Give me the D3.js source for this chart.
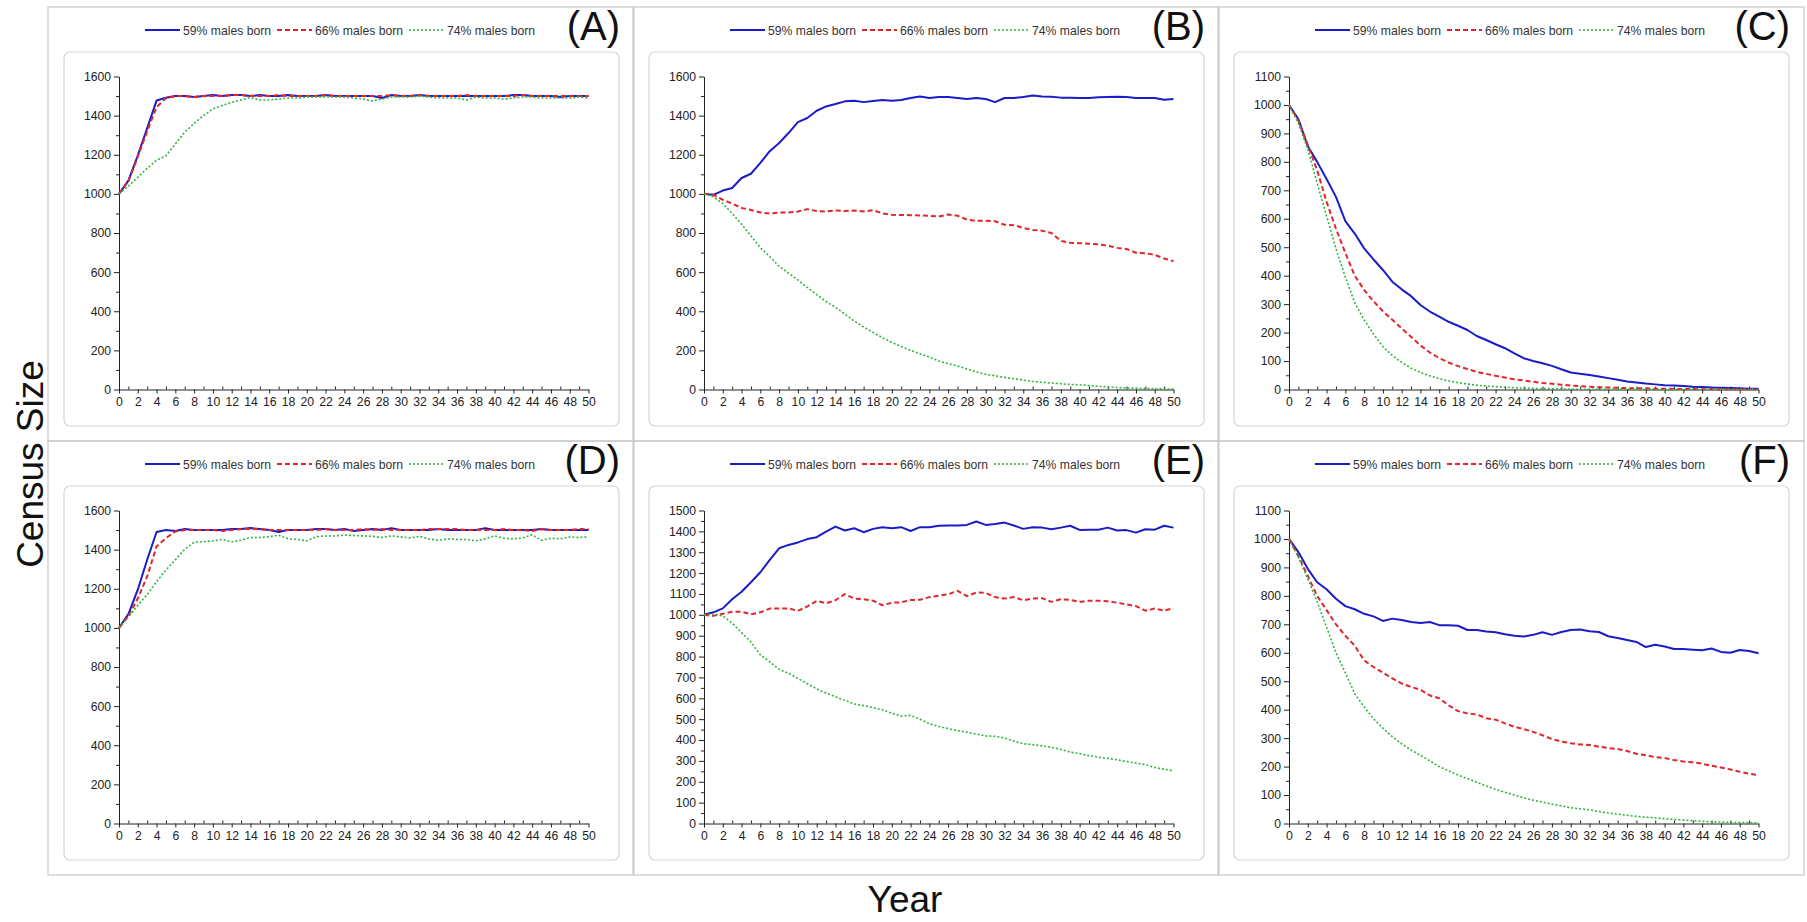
<!DOCTYPE html>
<html>
<head>
<meta charset="utf-8">
<script src="https://cdn.jsdelivr.net/npm/d3@7"></script>
<style>
  body { margin: 0; background: #fff; }
  svg { display: block; font-family: "Liberation Sans", Arial, sans-serif; }
</style>
</head>
<body>
<svg id="chart" width="1807" height="922"></svg>
<script>
// x categories: simulation years
const years = d3.range(0, 51);
const seriesNames = ['59% males born', '66% males born', '74% males born'];
const panelLabels = ['(A)', '(B)', '(C)', '(D)', '(E)', '(F)'];
const yMaxes = [1600, 1600, 1100, 1600, 1500, 1100];
const yMajorSteps = [200, 200, 100, 200, 100, 100];
const yMinorSteps = [100, 100, 50, 100, 50, 50];

// census size per year
const a59 = [1000,1068,1196,1336,1477,1491,1500,1500,1495,1500,
  1505,1500,1505,1505,1500,1505,1500,1500,1505,1500,
  1500,1500,1505,1500,1500,1500,1500,1500,1490,1505,
  1500,1500,1505,1500,1500,1500,1500,1500,1500,1500,
  1500,1500,1505,1505,1500,1500,1500,1495,1500,1500,1500];
const a66 = [1000,1065,1190,1320,1443,1490,1500,1500,1495,1500,
  1500,1500,1505,1505,1500,1500,1500,1505,1500,1500,
  1500,1500,1505,1500,1500,1500,1500,1500,1500,1505,
  1500,1500,1505,1500,1500,1500,1500,1505,1500,1500,
  1500,1500,1500,1505,1500,1500,1500,1500,1500,1500,1500];
const a74 = [1000,1040,1085,1130,1172,1195,1255,1315,1360,1400,
  1435,1452,1468,1480,1492,1480,1480,1485,1490,1490,
  1495,1495,1495,1495,1495,1490,1485,1475,1485,1495,
  1495,1495,1500,1495,1490,1490,1490,1480,1495,1490,
  1490,1485,1490,1495,1495,1490,1490,1490,1490,1495,1490];

const b59 = [1000,995,1017,1030,1081,1103,1158,1218,1260,1311,
  1367,1388,1425,1447,1459,1473,1476,1469,1475,1480,
  1476,1480,1490,1498,1490,1495,1495,1490,1485,1490,
  1485,1469,1490,1490,1495,1503,1498,1497,1492,1492,
  1490,1490,1494,1495,1496,1495,1490,1490,1490,1481,1485];
const b66 = [1000,995,970,950,928,918,905,900,905,905,
  910,922,912,910,915,912,915,910,917,900,
  893,892,891,890,888,884,895,888,869,862,
  862,860,842,840,826,815,812,800,760,750,
  748,745,742,735,724,718,699,697,688,670,656];
const b74 = [1000,985,950,900,845,785,725,680,630,595,
  560,522,485,450,420,385,350,320,292,265,
  240,220,200,183,165,146,132,120,105,90,
  78,70,62,55,48,41,37,33,29,26,
  24,20,16,13,10,8,6,5,4,3,2];

const c59 = [1000,950,855,800,740,677,592,548,496,457,
  420,379,352,328,297,274,256,238,224,209,
  188,174,159,145,127,110,100,92,83,71,
  60,55,51,46,40,34,28,25,21,18,
  15,14,12,10,9,7,6,5,4,3,3];
const c66 = [1000,945,860,770,660,565,480,400,350,310,
  275,245,215,185,155,130,110,95,82,72,
  62,55,48,42,36,32,27,23,20,17,
  14,12,10,8,7,6,5,4,4,3,
  3,2,2,2,1,1,1,1,1,1,1];
const c74 = [1000,935,845,725,610,495,395,305,245,195,
  150,120,95,75,60,48,38,30,24,19,
  15,12,10,8,6,5,4,3,3,2,
  2,1,1,1,1,1,1,1,0,0,
  0,0,0,0,0,0,0,0,0,0,0];

const d59 = [1000,1070,1195,1348,1490,1500,1495,1505,1500,1500,
  1500,1500,1505,1505,1510,1505,1500,1490,1500,1500,
  1500,1505,1505,1500,1505,1495,1500,1505,1500,1510,
  1500,1500,1500,1500,1505,1500,1500,1500,1500,1510,
  1500,1500,1500,1500,1500,1505,1500,1500,1500,1500,1500];
const d66 = [1000,1060,1150,1263,1416,1459,1493,1500,1500,1500,
  1500,1495,1500,1505,1505,1505,1500,1500,1500,1500,
  1500,1500,1505,1500,1500,1500,1505,1500,1505,1500,
  1500,1500,1500,1505,1505,1505,1505,1500,1500,1500,
  1500,1505,1500,1500,1495,1505,1500,1500,1500,1505,1505];
const d74 = [1000,1055,1115,1170,1236,1296,1348,1402,1438,1440,
  1445,1452,1440,1448,1462,1462,1466,1474,1455,1452,
  1445,1466,1470,1470,1474,1472,1470,1468,1462,1470,
  1465,1460,1468,1455,1448,1455,1452,1452,1445,1455,
  1470,1458,1455,1460,1476,1448,1458,1455,1465,1462,1465];

const e59 = [1000,1012,1031,1075,1111,1156,1204,1263,1319,1335,
  1347,1363,1372,1399,1423,1404,1415,1396,1412,1420,
  1415,1420,1402,1420,1420,1427,1428,1428,1431,1447,
  1431,1435,1442,1428,1412,1420,1418,1410,1418,1427,
  1407,1408,1408,1418,1404,1406,1394,1410,1408,1427,1418];
const e66 = [1000,995,1005,1015,1015,1003,1012,1030,1030,1031,
  1019,1040,1067,1055,1070,1099,1078,1075,1068,1046,
  1058,1060,1071,1072,1085,1092,1098,1115,1090,1107,
  1105,1085,1078,1085,1070,1078,1080,1062,1075,1072,
  1062,1068,1068,1065,1058,1050,1042,1020,1030,1020,1032];
const e74 = [1000,1005,995,960,915,870,808,775,739,720,
  695,670,645,625,608,590,573,565,555,545,
  528,515,518,500,478,465,455,445,438,428,
  420,418,410,395,382,378,372,365,355,342,
  335,325,318,312,305,297,290,282,268,260,253];

const f59 = [1000,954,895,848,823,790,764,753,737,728,
  712,720,715,708,705,708,697,697,695,680,
  680,675,672,665,660,657,663,672,663,673,
  680,682,676,673,658,652,645,638,620,628,
  622,613,613,611,609,615,603,600,610,606,598];
const f66 = [1000,940,870,800,750,700,660,625,573,550,
  530,510,492,480,470,450,440,415,395,387,
  383,370,365,352,340,332,322,310,297,288,
  282,278,276,270,265,262,255,245,240,233,
  230,223,218,215,210,203,197,190,182,175,170];
const f74 = [1000,935,860,780,690,600,530,456,410,368,
  335,305,280,258,240,220,200,185,170,158,
  145,132,120,110,100,90,82,75,68,62,
  55,52,48,42,37,33,29,25,22,20,
  17,14,12,10,8,6,5,4,3,3,2];

const panelSeries = [
  [a59, a66, a74], [b59, b66, b74], [c59, c66, c74],
  [d59, d66, d74], [e59, e66, e74], [f59, f66, f74]
];

const lineStyles = [
  { color: '#1c1cc6', width: 2, dash: null },
  { color: '#e2262b', width: 2, dash: '5,3' },
  { color: '#2fb53c', width: 1.6, dash: '2,2' }
];

const colX = [48, 633, 1218];
const rowY = [7, 441];
const panelW = 586, panelH = 434;
const plot = { left: 71, top: 69.5, width: 469.5, height: 313 };

const svg = d3.select('#chart');

panelSeries.forEach((series, i) => {
  const ox = colX[i % 3], oy = rowY[Math.floor(i / 3)];
  const g = svg.append('g').attr('transform', `translate(${ox},${oy})`);

  g.append('rect')
    .attr('x', 0).attr('y', 0)
    .attr('width', panelW).attr('height', panelH)
    .attr('fill', 'none').attr('stroke', '#c9c9c9').attr('stroke-width', 1.2);

  g.append('rect')
    .attr('x', 16).attr('y', 45)
    .attr('width', 555).attr('height', 374)
    .attr('rx', 6)
    .attr('fill', '#fff').attr('stroke', '#d6d6d6').attr('stroke-width', 1.2);

  // panel letter
  g.append('text')
    .attr('x', 572).attr('y', 33)
    .attr('text-anchor', 'end')
    .attr('font-size', 40)
    .attr('fill', '#111')
    .text(panelLabels[i]);

  // legend
  const leg = g.append('g').attr('transform', 'translate(97,23)');
  seriesNames.forEach((name, k) => {
    const item = leg.append('g').attr('transform', `translate(${k * 132},0)`);
    item.append('line')
      .attr('x1', 0).attr('x2', 35).attr('y1', 0).attr('y2', 0)
      .attr('stroke', lineStyles[k].color)
      .attr('stroke-width', lineStyles[k].width)
      .attr('stroke-dasharray', lineStyles[k].dash);
    item.append('text')
      .attr('x', 38).attr('y', 4.5)
      .attr('font-size', 12.2)
      .attr('fill', '#333')
      .text(name);
  });

  const x = d3.scaleLinear().domain([0, 50]).range([0, plot.width]);
  const y = d3.scaleLinear().domain([0, yMaxes[i]]).range([plot.height, 0]);

  const pg = g.append('g').attr('transform', `translate(${plot.left},${plot.top})`);

  // minor ticks
  const yMinor = d3.range(0, yMaxes[i] + 1, yMinorSteps[i]).filter(v => v % yMajorSteps[i] !== 0);
  pg.append('g')
    .call(d3.axisLeft(y).tickValues(yMinor).tickSize(3).tickFormat(''))
    .call(a => a.select('.domain').remove());
  pg.append('g')
    .attr('transform', `translate(0,${plot.height})`)
    .call(d3.axisTop(x).tickValues(years.filter(v => v % 2 === 1)).tickSize(3).tickFormat(''))
    .call(a => a.select('.domain').remove());

  pg.append('g')
    .attr('class', 'axis--y')
    .call(d3.axisLeft(y)
      .tickValues(d3.range(0, yMaxes[i] + 1, yMajorSteps[i]))
      .tickSize(5).tickSizeOuter(0).tickPadding(3)
      .tickFormat(d3.format('d')));

  pg.append('g')
    .attr('class', 'axis--x')
    .attr('transform', `translate(0,${plot.height})`)
    .call(d3.axisBottom(x)
      .tickValues(years.filter(v => v % 2 === 0))
      .tickSize(4).tickSizeOuter(0).tickPadding(4)
      .tickFormat(d3.format('d')));

  pg.selectAll('.tick line, .domain').attr('stroke', '#222');
  pg.selectAll('.tick text').attr('font-size', 12.2).attr('fill', '#222')
    .attr('font-family', '"Liberation Sans", Arial, sans-serif');

  const line = d3.line().x((d, j) => x(years[j])).y(d => y(d));

  series.forEach((vals, k) => {
    pg.append('path')
      .datum(vals)
      .attr('d', line)
      .attr('fill', 'none')
      .attr('stroke', lineStyles[k].color)
      .attr('stroke-width', lineStyles[k].width)
      .attr('stroke-dasharray', lineStyles[k].dash)
      .attr('stroke-linejoin', 'round');
  });
});

svg.append('text')
  .attr('transform', 'translate(43,464) rotate(-90)')
  .attr('text-anchor', 'middle')
  .attr('font-size', 37)
  .attr('fill', '#111')
  .text('Census Size');

svg.append('text')
  .attr('x', 905).attr('y', 912)
  .attr('text-anchor', 'middle')
  .attr('font-size', 37)
  .attr('fill', '#111')
  .text('Year');
</script>
</body>
</html>
